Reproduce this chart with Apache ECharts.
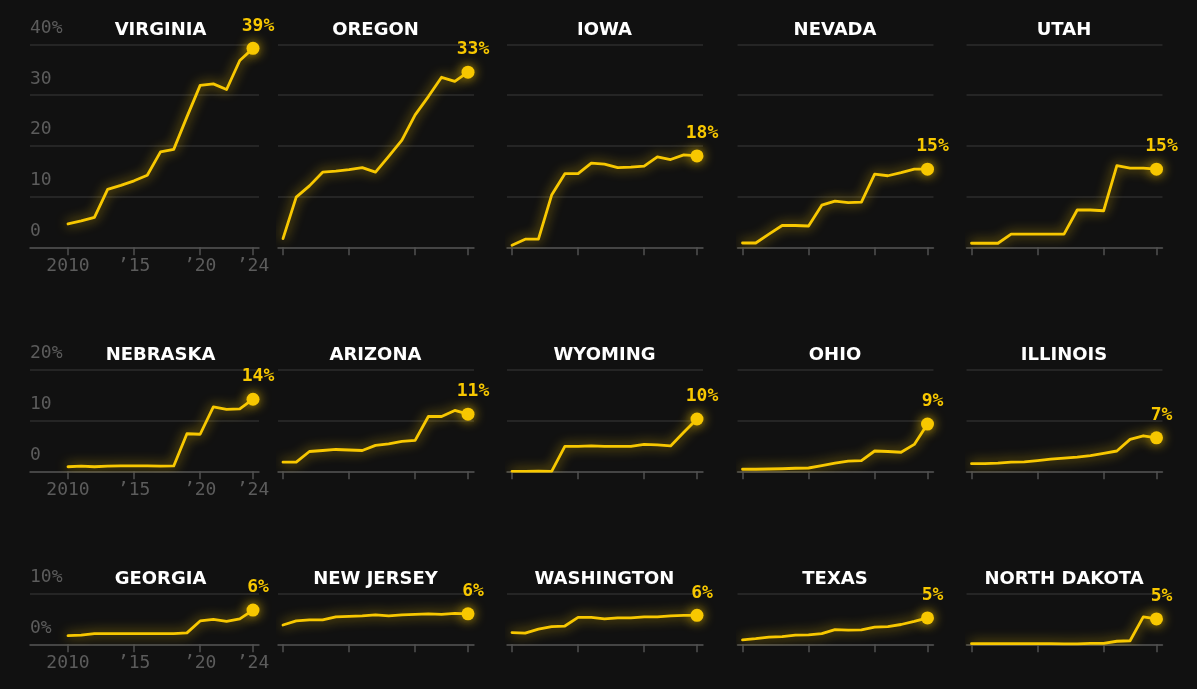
<!DOCTYPE html>
<html>
<head>
<meta charset="utf-8">
<script src="https://cdn.jsdelivr.net/npm/echarts@6/dist/echarts.min.js"></script>
<style>
html,body{margin:0;padding:0;background:#111111;}
#c{width:1197px;height:689px;}
</style>
</head>
<body>
<div id="c"></div>
<script>
// ---- data ----
const years = [2010, 2011, 2012, 2013, 2014, 2015, 2016, 2017, 2018, 2019, 2020, 2021, 2022, 2023, 2024];
const states = ['VIRGINIA', 'OREGON', 'IOWA', 'NEVADA', 'UTAH',
                'NEBRASKA', 'ARIZONA', 'WYOMING', 'OHIO', 'ILLINOIS',
                'GEORGIA', 'NEW JERSEY', 'WASHINGTON', 'TEXAS', 'NORTH DAKOTA'];
const virginia   = [4.6, 5.2, 5.9, 11.4, 12.2, 13.1, 14.2, 18.8, 19.3, 25.7, 31.9, 32.2, 31.1, 36.8, 39.2];
const oregon     = [1.7, 9.9, 12.1, 14.8, 15.0, 15.3, 15.7, 14.8, 17.9, 21.1, 26.1, 29.7, 33.5, 32.7, 34.5];
const iowa       = [0.4, 1.6, 1.6, 10.3, 14.5, 14.5, 16.6, 16.4, 15.7, 15.8, 16.0, 17.8, 17.3, 18.2, 18.0];
const nevada     = [0.85, 0.85, 2.6, 4.3, 4.3, 4.2, 8.3, 9.1, 8.8, 8.9, 14.4, 14.1, 14.7, 15.4, 15.4];
const utah       = [0.8, 0.8, 0.8, 2.6, 2.6, 2.6, 2.6, 2.6, 7.35, 7.35, 7.2, 16.1, 15.6, 15.6, 15.4];
const nebraska   = [0.9, 1.0, 0.9, 1.0, 1.05, 1.05, 1.05, 1.0, 1.05, 7.4, 7.3, 12.7, 12.2, 12.3, 14.2];
const arizona    = [1.8, 1.8, 3.9, 4.1, 4.3, 4.2, 4.1, 5.1, 5.4, 5.9, 6.1, 10.8, 10.8, 12.0, 11.25];
const wyoming    = [0, 0, 0.05, 0, 4.9, 4.9, 5.0, 4.9, 4.9, 4.9, 5.3, 5.2, 5.0, 7.7, 10.3];
const ohio       = [0.4, 0.4, 0.45, 0.5, 0.6, 0.65, 1.1, 1.6, 2.0, 2.1, 4.0, 3.9, 3.75, 5.3, 9.3];
const illinois   = [1.5, 1.5, 1.6, 1.8, 1.85, 2.1, 2.4, 2.6, 2.8, 3.1, 3.55, 4.0, 6.3, 7.0, 6.6];
const georgia    = [1.7, 1.8, 2.1, 2.1, 2.1, 2.1, 2.1, 2.1, 2.1, 2.25, 4.6, 4.9, 4.5, 5.0, 6.75];
const newJersey  = [3.8, 4.6, 4.8, 4.8, 5.4, 5.5, 5.6, 5.8, 5.6, 5.8, 5.9, 6.0, 5.9, 6.1, 6.0];
const washington = [2.3, 2.2, 3.0, 3.5, 3.6, 5.3, 5.3, 5.0, 5.2, 5.2, 5.4, 5.4, 5.6, 5.7, 5.7];
const texas      = [0.86, 1.1, 1.4, 1.5, 1.8, 1.85, 2.1, 2.9, 2.8, 2.85, 3.4, 3.5, 3.9, 4.5, 5.2];
const northDakota= [0.13, 0.13, 0.13, 0.13, 0.13, 0.13, 0.13, 0.1, 0.1, 0.2, 0.2, 0.6, 0.7, 5.4, 5.0];
const endLabels  = ['39%', '33%', '18%', '15%', '15%', '14%', '11%', '10%', '9%', '7%', '6%', '6%', '6%', '5%', '5%'];
const rowMax     = [40, 20, 10];
const yTickLabels = [['0', '10', '20', '30', '40%'], ['0', '10', '20%'], ['0%', '10%']];
const xTickValues = [2010, 2015, 2020, 2024];
const xTickLabels = ['2010', '\u201915', '\u201920', '\u201924'];

const stateValues = [virginia, oregon, iowa, nevada, utah, nebraska, arizona, wyoming, ohio, illinois,
                     georgia, newJersey, washington, texas, northDakota];

// ---- layout ----
const GOLD = '#f8c800';
const GLOW = 'rgba(248,200,0,0.8)';
const GRID_C = '#2c2c2c';
const AXIS_C = '#505050';
const TEXT_C = '#5c5c5c';
const colX2010 = [68, 283, 512, 742.5, 971.5];
const DATA_W = 185;
const PX_YEAR = DATA_W / 14;
const PX_UNIT = 5.075;
const rowBase = [247.3, 471.3, 644.3];
const MONO = 'DejaVu Sans Mono';

const grids = [], xAxes = [], yAxes = [], series = [], titles = [];

stateValues.forEach((vals, i) => {
  const r = Math.floor(i / 5), c = i % 5;
  const x0 = colX2010[c];
  const left = c === 0 ? 30 : x0 - 5;
  const right = x0 + DATA_W + 6;
  const top = rowBase[r] - rowMax[r] * PX_UNIT;
  grids.push({
    left: left, top: top, width: right - left, height: rowBase[r] - top,
    containLabel: false, outerBoundsMode: 'none'
  });
  xAxes.push({
    gridIndex: i, type: 'value',
    min: 2010 - (x0 - left) / PX_YEAR, max: 2024 + 6 / PX_YEAR,
    axisLine: { show: true, onZero: false, lineStyle: { color: AXIS_C, width: 1.5 } },
    axisTick: { show: true, customValues: xTickValues, length: 8, lineStyle: { color: AXIS_C, width: 1.5 } },
    axisLabel: {
      show: c === 0, customValues: xTickValues,
      formatter: v => xTickLabels[xTickValues.indexOf(v)],
      color: TEXT_C, fontFamily: MONO, fontSize: 18, margin: 10, hideOverlap: false
    },
    splitLine: { show: false }
  });
  yAxes.push({
    gridIndex: i, type: 'value', min: 0, max: rowMax[r], interval: 10,
    axisLine: { show: false }, axisTick: { show: false },
    splitLine: { show: true, lineStyle: { color: GRID_C, width: 1.5 } },
    axisLabel: {
      show: c === 0, inside: true, margin: 0,
      formatter: v => yTickLabels[r][Math.round(v / 10)],
      color: TEXT_C, fontFamily: MONO, fontSize: 18,
      align: 'left', verticalAlign: 'bottom', padding: [0, 0, 7, 0],
      showMinLabel: true, showMaxLabel: true, hideOverlap: false
    }
  });
  series.push({
    type: 'line', xAxisIndex: i, yAxisIndex: i,
    data: years.map((y, k) => [y, vals[k]]),
    symbol: 'none', silent: true, animation: false,
    lineStyle: { color: GOLD, width: 2.8, shadowColor: GLOW, shadowBlur: 12, cap: 'round', join: 'round' }
  });
  series.push({
    type: 'scatter', xAxisIndex: i, yAxisIndex: i,
    data: [[years[years.length - 1], vals[vals.length - 1]]],
    symbolSize: 13, silent: true, animation: false, clip: false,
    itemStyle: { color: GOLD, opacity: 1, shadowColor: GLOW, shadowBlur: 12 },
    label: {
      show: true, position: 'top', distance: 7, offset: [5, 0],
      formatter: endLabels[i], color: GOLD, opacity: 1,
      fontFamily: MONO, fontWeight: 'bold', fontSize: 18
    }
  });
  titles.push({
    text: states[i], left: x0 + DATA_W / 2, top: top - 14,
    textAlign: 'center', textVerticalAlign: 'middle', padding: 0,
    textStyle: { color: '#ffffff', fontFamily: 'DejaVu Sans', fontWeight: 'bold', fontSize: 18 }
  });
});

const chart = echarts.init(document.getElementById('c'), null, { renderer: 'canvas' });
chart.setOption({
  backgroundColor: '#111111',
  animation: false,
  title: titles,
  grid: grids,
  xAxis: xAxes,
  yAxis: yAxes,
  series: series
});
</script>
</body>
</html>
